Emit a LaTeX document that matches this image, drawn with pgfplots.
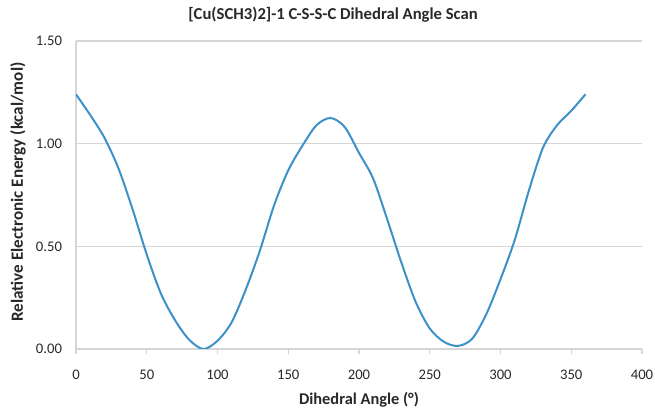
\documentclass[border=0pt]{standalone}
\usepackage{pgfplots}
\pgfplotsset{compat=1.18}
\usepackage{fontspec}
\setmainfont{Carlito}
\definecolor{scanblue}{RGB}{60,145,200}
\definecolor{gridgray}{RGB}{214,214,214}
\definecolor{labelgray}{RGB}{40,40,40}
\begin{document}
\begin{tikzpicture}
  \useasboundingbox (-57pt,-45pt) rectangle (434.25pt,261.75pt);
  \begin{axis}[
      scale only axis,
      width=424.5pt, height=231pt,
      xmin=0, xmax=400, ymin=0, ymax=1.5,
      xtick={0,50,...,400},
      ytick={0,0.5,1,1.5},
      yticklabel style={xshift=-3pt, /pgf/number format/.cd, fixed, fixed zerofill, precision=2},
      /pgf/number format/assume math mode=true,
      ticklabel style={font=\fontsize{11}{13}\selectfont, text=labelgray},
      xticklabel style={yshift=-8.5pt},
      axis x line*=bottom, axis y line*=left,
      axis line style={gridgray, line width=0.8pt},
      ymajorgrids, grid style={gridgray, line width=0.8pt},
      xtick style={gridgray, line width=0.8pt},
      tick align=outside, major tick length=4pt,
      ytick style={draw=none},
      title={\textbf{[Cu(SCH3)2]-1 C-S-S-C Dihedral Angle Scan}},
      title style={font=\fontsize{12.5}{15}\selectfont, text=labelgray,
        at={(axis description cs:0.5,1)}, anchor=base, xshift=-19.5pt, yshift=9.75pt},
      xlabel={\textbf{Dihedral Angle (°)}},
      ylabel={\textbf{Relative Electronic Energy (kcal/mol)}},
      xlabel style={font=\fontsize{12.3}{14}\selectfont, text=labelgray,
        at={(axis description cs:0.5,0)}, anchor=base, yshift=-42pt},
      ylabel style={font=\fontsize{12.8}{15}\selectfont, text=labelgray,
        at={(axis description cs:0,0.5)}, anchor=base, yshift=39.75pt, xshift=2.25pt},
    ]
    \addplot[scanblue, line width=1.5pt, smooth] coordinates {
      (0,1.24)(10,1.14)(20,1.03)(30,0.88)(40,0.68)(50,0.46)(60,0.27)
      (70,0.14)(80,0.045)(90,0.00)(100,0.04)(110,0.13)(120,0.29)
      (130,0.48)(140,0.70)(150,0.87)(160,0.99)(170,1.09)(180,1.125)
      (190,1.08)(200,0.955)(210,0.83)(220,0.63)(230,0.42)(240,0.23)
      (250,0.10)(260,0.035)(270,0.015)(280,0.05)(290,0.17)(300,0.34)
      (310,0.53)(320,0.77)(330,0.98)(340,1.09)(350,1.16)(360,1.24)
    };
  \end{axis}
\end{tikzpicture}
\end{document}
